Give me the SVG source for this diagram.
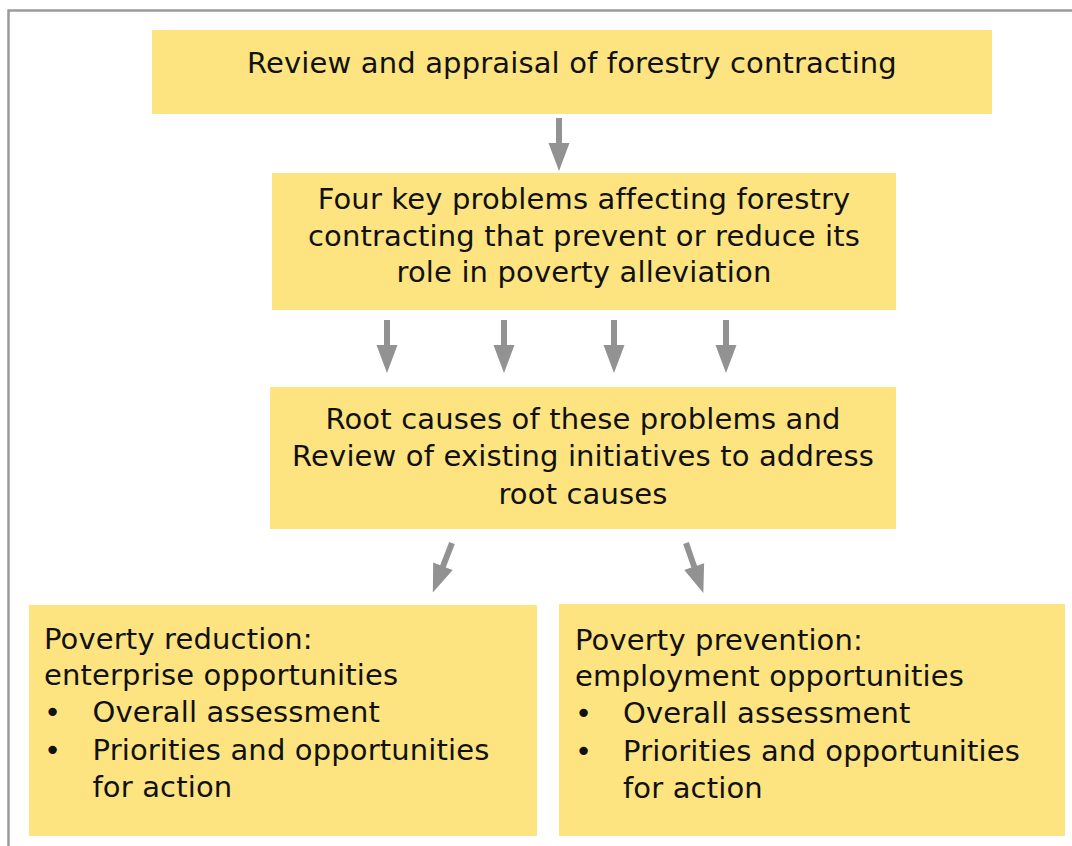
<svg xmlns="http://www.w3.org/2000/svg" xmlns:xlink="http://www.w3.org/1999/xlink" width="1072" height="846" viewBox="0 0 1072 846">
  <style>
    .box { fill: #FDE480; }
    .t { font-family: "DejaVu Sans", Verdana, sans-serif; font-size: 29px; letter-spacing: 0.15px; fill: #111; }
    .c { text-anchor: middle; }
    .arrow { fill: #929292; }
    .frame { fill: none; stroke: #9a9a9a; stroke-width: 2.5; }
  </style>
  <defs>
    <!-- block arrow pointing down, tail at origin -->
    <path id="blockArrow" d="M-3,0 H3 V25 H10.5 L0,53 L-10.5,25 H-3 Z"/>
  </defs>

  <rect width="1072" height="846" fill="#ffffff"/>
  <path class="frame" d="M8.5,846 V10.5 H1072"/>

  <g id="review">
    <rect class="box" x="152" y="30" width="840" height="84"/>
    <text class="t c" x="572" y="73">Review and appraisal of forestry contracting</text>
  </g>

  <g id="problems">
    <rect class="box" x="272" y="173" width="624" height="137"/>
    <text class="t c" x="584" y="209">Four key problems affecting forestry</text>
    <text class="t c" x="584" y="245.5">contracting that prevent or reduce its</text>
    <text class="t c" x="584" y="282">role in poverty alleviation</text>
  </g>

  <g id="root-causes">
    <rect class="box" x="270" y="387" width="626" height="142"/>
    <text class="t c" x="583" y="428.5">Root causes of these problems and</text>
    <text class="t c" x="583" y="466">Review of existing initiatives to address</text>
    <text class="t c" x="583" y="503.5">root causes</text>
  </g>

  <g id="poverty-reduction">
    <rect class="box" x="29" y="605" width="508" height="231"/>
    <text class="t" x="44" y="648.5">Poverty reduction:</text>
    <text class="t" x="44" y="685">enterprise opportunities</text>
    <text class="t" x="44" y="722">•</text>
    <text class="t" x="92.5" y="722">Overall assessment</text>
    <text class="t" x="44" y="759.5">•</text>
    <text class="t" x="92.5" y="759.5">Priorities and opportunities</text>
    <text class="t" x="92.5" y="796.5">for action</text>
  </g>

  <g id="poverty-prevention">
    <rect class="box" x="559" y="604" width="506" height="232"/>
    <text class="t" x="575" y="649.5">Poverty prevention:</text>
    <text class="t" x="575" y="686">employment opportunities</text>
    <text class="t" x="575" y="723">•</text>
    <text class="t" x="623" y="723">Overall assessment</text>
    <text class="t" x="575" y="760.5">•</text>
    <text class="t" x="623" y="760.5">Priorities and opportunities</text>
    <text class="t" x="623" y="797.5">for action</text>
  </g>

  <g id="connectors" class="arrow">
    <use xlink:href="#blockArrow" transform="translate(559,118)"/>
    <use xlink:href="#blockArrow" transform="translate(387,320)"/>
    <use xlink:href="#blockArrow" transform="translate(504,320)"/>
    <use xlink:href="#blockArrow" transform="translate(614,320)"/>
    <use xlink:href="#blockArrow" transform="translate(726,320)"/>
    <use xlink:href="#blockArrow" transform="translate(452,543) rotate(21.2)"/>
    <use xlink:href="#blockArrow" transform="translate(686,543) rotate(-19.1)"/>
  </g>
</svg>
